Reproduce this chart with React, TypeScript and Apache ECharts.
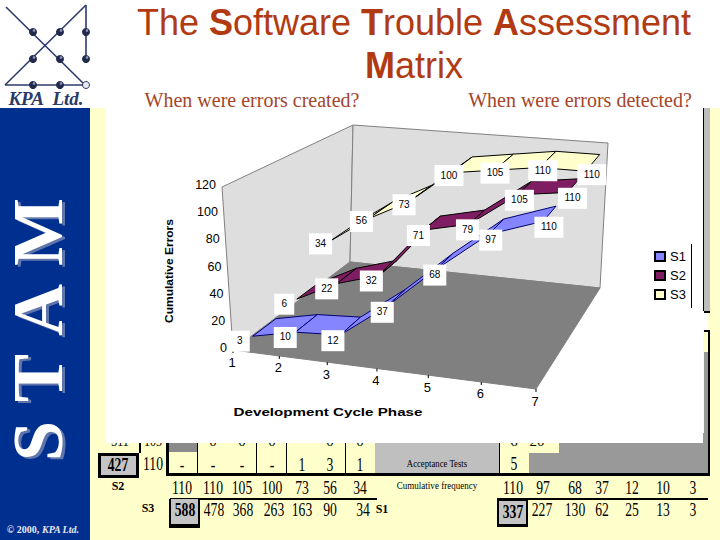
import React, { useEffect, useRef } from "react";
import * as echarts from "echarts";

// ---- chart data ----
const phases = [1, 2, 3, 4, 5, 6, 7];
const s1Values = [3, 10, 12, 37, 68, 97, 110];
const s2Values = [6, 22, 32, 71, 79, 105, 110];
const s3Values = [34, 56, 73, 100, 105, 110, 110];
const yTicks = [0, 20, 40, 60, 80, 100, 120];
const seriesNames = ["S1", "S2", "S3"];

// ---- table data ----
const s3Freq = ["110", "110", "105", "100", "73", "56", "34"];
const s3Cum = ["478", "368", "263", "163", "90", "34"];
const s1Freq = ["110", "97", "68", "37", "12", "10", "3"];
const s1Cum = ["227", "130", "62", "25", "13", "3"];
const accRow = ["-", "-", "-", "-", "1", "3", "1"];
const cutRow = ["", "0", "0", "0", "", "0", "0"];

const RED = "#b23a12";
const SUB = "#a5452a";
const BLUE = "#00308f";
const PALE = "#ffffcc";
const NAVY = "#2c3a6b";
const SERIF = "Liberation Serif";
const SANS = "Liberation Sans";

// ---- 3D chart projection ----
const A = [233, 350], B = [536, 389], C = [600, 288], D = [350, 262];
const H = { a: 163, b: 172, c: 145, d: 137 };
const DX = { a: -11, b: 10, c: 8, d: 3 };
const lerp = (p: number, q: number, t: number) => p + (q - p) * t;
const bilerp = (a: number, b: number, c: number, d: number, u: number, z: number) =>
  lerp(lerp(a, b, u), lerp(d, c, u), z);
function project(u: number, z: number, v: number): number[] {
  const x = bilerp(A[0], B[0], C[0], D[0], u, z);
  const y = bilerp(A[1], B[1], C[1], D[1], u, z);
  const f = v / 120;
  return [x + bilerp(DX.a, DX.b, DX.c, DX.d, u, z) * f, y - bilerp(H.a, H.b, H.c, H.d, u, z) * f];
}
const warp = (phase: number) => {
  const t = (phase - 1) / 6;
  return t * (0.9 + 0.1 * t);
};
const ribbonU = (phase: number) => 0.02 + 0.95 * warp(phase);

function txt(x: number, y: number, text: string, font: any = {}, extra: any = {}) {
  return {
    type: "text",
    ...extra,
    x,
    y,
    style: {
      text,
      fill: "#000",
      fontFamily: SERIF,
      fontSize: 12,
      textAlign: "center",
      textVerticalAlign: "middle",
      align: "center",
      verticalAlign: "middle",
      ...font,
    },
  };
}
const box = (x: number, y: number, width: number, height: number, fill: string, extra: any = {}) => ({
  type: "rect",
  shape: { x, y, width, height },
  style: { fill, ...extra },
});
const seg = (x1: number, y1: number, x2: number, y2: number, stroke: string, lineWidth = 1) => ({
  type: "line",
  shape: { x1, y1, x2, y2 },
  style: { stroke, lineWidth },
});
const poly = (points: number[][], fill: string, stroke: string) => ({
  type: "polygon",
  shape: { points },
  style: { fill, stroke, lineWidth: 1 },
});
const num = (x: number, y: number, s: string, bold = false) =>
  txt(x, y, s, { fontSize: 19, fontWeight: bold ? "bold" : "normal" }, { scaleX: 0.72 });

function logo(): any[] {
  const out: any[] = [
    seg(6, 7, 85, 85, NAVY, 1.6),
    seg(86, 5, 5, 85, NAVY, 1.6),
    seg(86, 5, 86, 58, NAVY, 1.6),
    seg(5, 85, 86, 85, NAVY, 1.6),
  ];
  const dots = [[33, 32], [60, 32], [86, 32], [33, 59], [60, 59], [86, 59], [33, 85], [60, 85]];
  dots.forEach(([cx, cy]) => {
    out.push({ type: "circle", shape: { cx, cy, r: 4 }, style: { fill: "#222a4c" } });
    out.push({ type: "circle", shape: { cx: cx + 1, cy: cy - 1.5, r: 1.3 }, style: { fill: "#8f96b8" } });
  });
  out.push({ type: "circle", shape: { cx: 86, cy: 85, r: 3.5 }, style: { fill: "#e8e8f0", stroke: NAVY } });
  out.push(txt(46, 98, "KPA  Ltd.", { fontSize: 19, fontWeight: "bold", fontStyle: "italic", fill: NAVY }));
  return out;
}

function stam(): any[] {
  const letters: [string, number][] = [["S", 441], ["T", 378], ["A", 310], ["M", 232]];
  const out: any[] = [];
  letters.forEach(([c, y]) => {
    out.push(txt(41, y + 2, c, { fontSize: 72, fontWeight: "bold", fill: "#5f75ab" }, { rotation: Math.PI / 2 }));
    out.push(txt(38, y, c, { fontSize: 72, fontWeight: "bold", fill: "#ffffff" }, { rotation: Math.PI / 2 }));
  });
  return out;
}

function table(): any[] {
  const out: any[] = [];
  const xsL = [182, 213, 242, 272, 302, 330, 360];
  const xsL2 = [214, 243, 274, 302, 330, 363];
  const xsR = [513, 543, 575, 602, 632, 663, 693];
  const xsR2 = [542, 575, 602, 632, 663, 693];

  // grey fields
  out.push(box(375, 436, 124, 37, "#bfbfbf"));
  out.push(box(529, 433, 179, 40, "#999999"));
  out.push(box(499, 436, 60, 17, PALE));
  out.push(box(169, 436, 28, 16, "#8a8a8a"));
  // rules
  out.push(box(139, 436, 2, 17, "#000"));
  out.push(box(166, 436, 3, 40, "#000"));
  out.push(box(197, 436, 1, 38, "#000"));
  out.push(box(256, 436, 1, 38, "#000"));
  out.push(box(286, 436, 1, 38, "#000"));
  out.push(box(345, 436, 1, 38, "#000"));
  out.push(box(499, 436, 1, 38, "#000"));
  out.push(box(166, 473, 544, 3, "#000"));
  out.push(box(708, 331, 2, 145, "#000"));
  // clipped row
  out.push(txt(120, 441, "311", { fontSize: 15 }, { scaleX: 0.8 }));
  out.push(txt(153, 441, "105", { fontSize: 15 }, { scaleX: 0.8 }));
  cutRow.forEach((s, i) => s && out.push(txt(xsL[i], 441, s, { fontSize: 15 })));
  out.push(txt(514, 441, "6", { fontSize: 15 }));
  out.push(txt(537, 441, "20", { fontSize: 15 }));
  // row 427
  out.push(box(98, 453, 41, 25, "#000"));
  out.push(box(101, 456, 35, 19, "#c4c4c4"));
  out.push(num(118, 465, "427", true));
  out.push(num(153, 464, "110"));
  accRow.forEach((s, i) => out.push(num(xsL[i], 465, s)));
  out.push(num(514, 464, "5"));
  out.push(txt(437, 463, "Acceptance Tests", { fontSize: 10.5 }, { scaleX: 0.83 }));
  out.push(txt(437, 485, "Cumulative frequency", { fontSize: 10.5 }, { scaleX: 0.86 }));
  // S labels
  out.push(txt(118, 486, "S2", { fontSize: 12, fontWeight: "bold" }));
  out.push(txt(148, 508, "S3", { fontSize: 12, fontWeight: "bold" }));
  out.push(txt(382, 509, "S1", { fontSize: 12, fontWeight: "bold" }));
  // bottom rows
  s3Freq.forEach((s, i) => out.push(num(xsL[i], 488, s)));
  out.push(box(170, 498, 207, 2, "#000"));
  out.push(box(169, 499, 31, 29, "#000"));
  out.push(box(171, 499, 27, 25, "#c4c4c4"));
  out.push(num(185, 510, "588", true));
  s3Cum.forEach((s, i) => out.push(num(xsL2[i], 510, s)));
  s1Freq.forEach((s, i) => out.push(num(xsR[i], 488, s)));
  out.push(box(497, 498, 211, 2, "#000"));
  out.push(box(497, 499, 31, 28, "#000"));
  out.push(box(499, 501, 27, 23, "#c4c4c4"));
  out.push(num(513, 512, "337", true));
  s1Cum.forEach((s, i) => out.push(num(xsR2[i], 510, s)));
  return out;
}

function scene(): any[] {
  const out: any[] = [];
  const wallFill = "#dedede";
  const edge = "#808080";
  const aTop = project(0, 0, 120), dTop = project(0, 1, 120), cTop = project(1, 1, 120);
  const a0 = project(0, 0, 0), b0 = project(1, 0, 0), c0 = project(1, 1, 0), d0 = project(0, 1, 0);
  out.push(poly([a0, aTop, dTop, d0], wallFill, edge));
  out.push(poly([d0, dTop, cTop, c0], wallFill, edge));
  out.push(poly([a0, b0, c0, d0], "#808080", "#808080"));
  yTicks.forEach((v) => {
    const p = project(0, 0, v);
    out.push(txt(p[0] - 6, p[1] - 2, String(v), { fontFamily: SANS, fontSize: 12.5, textAlign: "right", align: "right" }));
  });
  phases.forEach((ph) => {
    const p = project(warp(ph), 0, 0);
    out.push(seg(p[0], p[1], p[0], p[1] + 3, "#000"));
    out.push(txt(p[0] - 1, p[1] + 12, String(ph), { fontFamily: SANS, fontSize: 13 }));
  });
  out.push(txt(169, 271, "Cumulative Errors", { fontFamily: SANS, fontSize: 11, fontWeight: "bold" }, { rotation: Math.PI / 2, scaleX: 1.09 }));
  out.push(txt(328, 412, "Development Cycle Phase", { fontFamily: SANS, fontSize: 11, fontWeight: "bold" }, { scaleX: 1.38 }));
  out.push(seg(691.5, 244, 691.5, 308, "#000"));
  return out;
}

const ribbonStyles = [
  { name: seriesNames[0], values: s1Values, fill: "#8585ff", stroke: "#000070", zFront: 0.12, zBack: 0.32, labelZ: 0.06 },
  { name: seriesNames[1], values: s2Values, fill: "#7f1d63", stroke: "#000000", zFront: 0.5, zBack: 0.68, labelZ: 0.44 },
  { name: seriesNames[2], values: s3Values, fill: "#ffffcc", stroke: "#000000", zFront: 0.78, zBack: 1.0, labelZ: 0.75 },
];

function ribbonSeries(r: (typeof ribbonStyles)[number]) {
  return {
    type: "custom",
    name: r.name,
    coordinateSystem: "none",
    silent: true,
    itemStyle: { color: r.fill, borderColor: "#000", borderWidth: 1 },
    data: phases.map((p, i) => [p, r.values[i]]),
    renderItem: (params: any, api: any) => {
      const i = params.dataIndex;
      const ph = api.value(0) as number;
      const v = api.value(1) as number;
      const children: any[] = [];
      if (i < phases.length - 1) {
        const ph2 = phases[i + 1];
        const v2 = r.values[i + 1];
        const points = [
          project(ribbonU(ph), r.zFront, v),
          project(ribbonU(ph2), r.zFront, v2),
          project(ribbonU(ph2), r.zBack, v2),
          project(ribbonU(ph), r.zBack, v),
        ];
        children.push({
          type: "polygon",
          shape: { points },
          style: { fill: r.fill, stroke: r.stroke, lineWidth: 1 },
        });
      }
      const l = project(warp(ph), r.labelZ, v);
      const s = String(v);
      const w = s.length > 2 ? 29 : s.length > 1 ? 23 : 20;
      children.push({
        type: "rect",
        z2: 10,
        shape: { x: l[0] - w / 2, y: l[1] - 10, width: w, height: 21 },
        style: { fill: "#ffffff" },
      });
      children.push({
        type: "text",
        z2: 11,
        x: l[0],
        y: l[1],
        style: {
          text: s,
          fill: "#000",
          fontFamily: SANS,
          fontSize: 10,
          align: "center",
          verticalAlign: "middle",
          textAlign: "center",
          textVerticalAlign: "middle",
        },
      });
      return { type: "group", children };
    },
  };
}

export default function App() {
  const ref = useRef<HTMLDivElement>(null);
  useEffect(() => {
    document.body.style.margin = "0";
    const chart = echarts.init(ref.current!, undefined, { renderer: "svg" });
    const titleRich = {
      r: { fontFamily: SANS, fontSize: 36, fill: RED, color: RED },
      b: { fontFamily: SANS, fontSize: 36, fontWeight: "bold", fill: RED, color: RED },
    };
    const elements: any[] = [
      box(0, 0, 720, 540, "#ffffff"),
      box(90, 108, 630, 432, PALE),
      box(0, 108, 90, 432, BLUE),
      ...logo(),
      ...stam(),
      txt(43, 529, "{a|© 2000, }{b|KPA Ltd.}", {
        rich: {
          a: { fontFamily: SERIF, fontSize: 10, fontWeight: "bold", fill: "#e6e6f0", color: "#e6e6f0" },
          b: { fontFamily: SERIF, fontSize: 10, fontWeight: "bold", fontStyle: "italic", fill: "#e6e6f0", color: "#e6e6f0" },
        },
      }),
      txt(414, 22, "{r|The }{b|S}{r|oftware }{b|T}{r|rouble }{b|A}{r|ssessment}", { rich: titleRich }),
      txt(414, 65, "{b|M}{r|atrix}", { rich: titleRich }),
      txt(252, 100, "When were errors created?", { fontSize: 20, fill: SUB }),
      txt(580, 100, "When were errors detected?", { fontSize: 20, fill: SUB }),
      // right-hand edge of the underlying sheet
      box(703, 108, 1, 203, "#000"),
      box(704, 108, 6, 203, "#bdbdbd"),
      box(704, 311, 6, 2, "#000"),
      box(704, 330, 6, 2, "#000"),
      box(704, 332, 4, 20, PALE),
      box(704, 352, 4, 122, "#999999"),
      ...table(),
      box(106, 108, 597, 335, "#ffffff"),
      box(703, 313, 5, 17, "#ffffff"),
      ...scene(),
    ];
    chart.setOption({
      animation: false,
      graphic: { elements },
      legend: {
        left: 649,
        top: 245,
        orient: "vertical",
        itemWidth: 10,
        itemHeight: 9,
        itemGap: 6,
        icon: "rect",
        selectedMode: false,
        textStyle: { fontFamily: SANS, fontSize: 13, color: "#000" },
        data: seriesNames,
      },
      series: [ribbonSeries(ribbonStyles[2]), ribbonSeries(ribbonStyles[1]), ribbonSeries(ribbonStyles[0])],
    });
    return () => chart.dispose();
  }, []);
  return <div ref={ref} style={{ position: "absolute", left: 0, top: 0, width: 720, height: 540 }} />;
}
